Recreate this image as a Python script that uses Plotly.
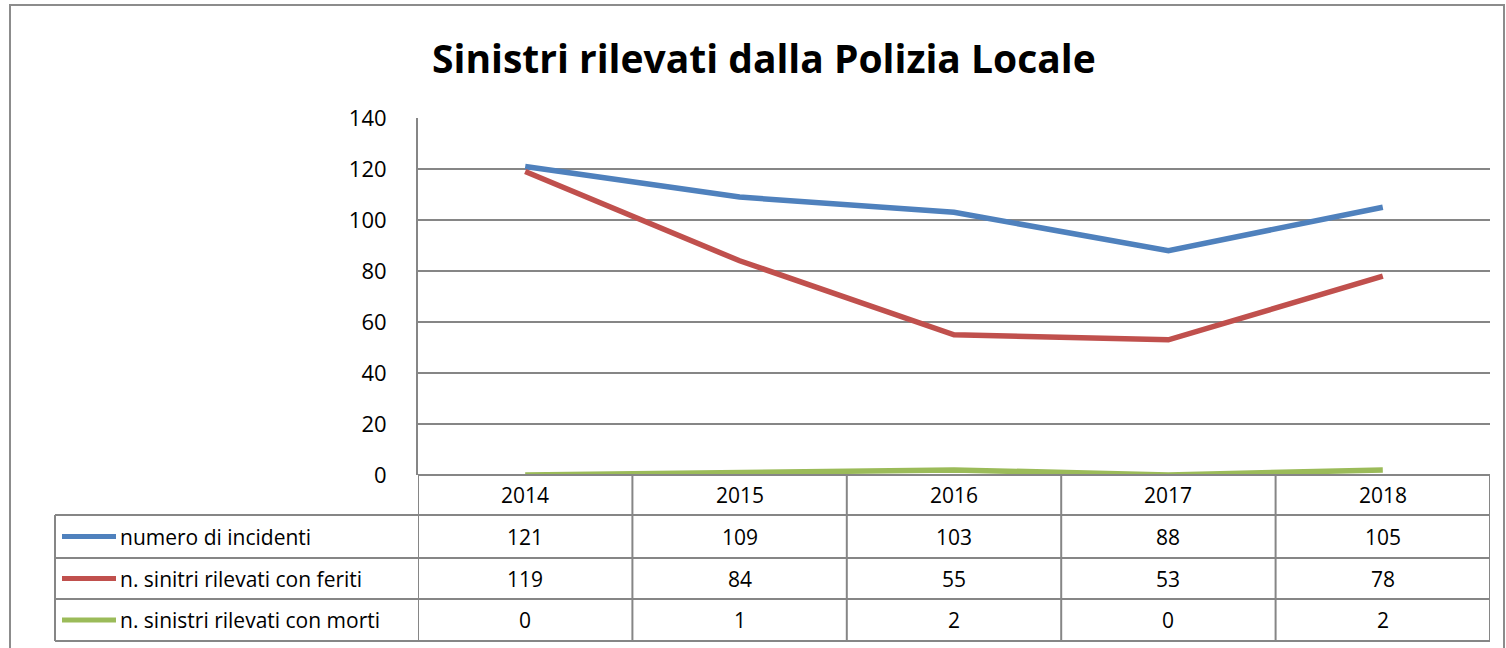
import plotly.graph_objects as go

# ---- data ----
years = ["2014", "2015", "2016", "2017", "2018"]
series_names = [
    "numero di incidenti",
    "n. sinitri rilevati con feriti",
    "n. sinistri rilevati con morti",
]
incidenti = [121, 109, 103, 88, 105]
feriti = [119, 84, 55, 53, 78]
morti = [0, 1, 2, 0, 2]
series_values = [incidenti, feriti, morti]
colors = ["#4F81BD", "#C0504D", "#9BBB59"]
y_ticks = [0, 20, 40, 60, 80, 100, 120, 140]
title = "Sinistri rilevati dalla Polizia Locale"

# ---- layout geometry (pixels) ----
W, H = 1506, 648
L, R, T, B = 418, 1490, 118, 475
FONT = "Open Sans"
GRID = "#868686"
TXT = 21


def px(x):
    return (x - L) / (R - L)


def py(y):
    return (B - y) / (B - T)


xs = list(range(len(years)))

fig = go.Figure()
for name, vals, col in zip(series_names, series_values, colors):
    fig.add_trace(go.Scatter(
        x=xs, y=vals, name=name, mode="lines",
        line=dict(color=col, width=5.5),
        showlegend=False, cliponaxis=False,
    ))

shapes = []
# outer chart border
shapes.append(dict(type="rect", xref="paper", yref="paper",
                   x0=px(10), x1=px(1504), y0=py(5), y1=py(700),
                   line=dict(color="#8C8C8C", width=2), layer="below"))

# table geometry
row_lines = [515, 558, 599, 641]
leg_left = 55
for yy in row_lines:
    shapes.append(dict(type="line", xref="paper", yref="paper",
                       x0=px(leg_left), x1=1, y0=py(yy), y1=py(yy),
                       line=dict(color=GRID, width=2)))
for i in range(len(years) + 1):
    shapes.append(dict(type="line", xref="x", yref="paper",
                       x0=i - 0.5, x1=i - 0.5, y0=0, y1=py(row_lines[-1]),
                       line=dict(color=GRID, width=2)))
shapes.append(dict(type="line", xref="paper", yref="paper",
                   x0=px(leg_left), x1=px(leg_left),
                   y0=py(row_lines[0]), y1=py(row_lines[-1]),
                   line=dict(color=GRID, width=2)))
shapes.append(dict(type="line", xref="paper", yref="paper",
                   x0=0, x1=1, y0=0, y1=0,
                   line=dict(color=GRID, width=2)))

annotations = []
header_c = (B + row_lines[0]) / 2
for i, yr in enumerate(years):
    annotations.append(dict(x=i, y=py(header_c), xref="x", yref="paper",
                            text=yr, showarrow=False,
                            font=dict(family=FONT, size=TXT, color="#000"),
                            xanchor="center", yanchor="middle"))
for r, (name, vals, col) in enumerate(zip(series_names, series_values, colors)):
    yc = (row_lines[r] + row_lines[r + 1]) / 2
    for i, v in enumerate(vals):
        annotations.append(dict(x=i, y=py(yc), xref="x", yref="paper",
                                text=str(v), showarrow=False,
                                font=dict(family=FONT, size=TXT, color="#000"),
                                xanchor="center", yanchor="middle"))
    shapes.append(dict(type="line", xref="paper", yref="paper",
                       x0=px(62), x1=px(116), y0=py(yc), y1=py(yc),
                       line=dict(color=col, width=5)))
    annotations.append(dict(x=px(118), y=py(yc), xref="paper", yref="paper",
                            text=name, showarrow=False,
                            font=dict(family=FONT, size=TXT, color="#000"),
                            xanchor="left", yanchor="middle"))

annotations.append(dict(x=px(764), y=py(58), xref="paper", yref="paper",
                        text="<b>" + title + "</b>", showarrow=False,
                        font=dict(family=FONT, size=39, color="#000"),
                        xanchor="center", yanchor="middle"))

fig.update_layout(
    width=W, height=H,
    margin=dict(l=L, r=W - R, t=T, b=H - B, pad=0),
    paper_bgcolor="white", plot_bgcolor="white",
    shapes=shapes, annotations=annotations,
    xaxis=dict(range=[-0.5, len(years) - 0.5], showgrid=False,
               showticklabels=False, zeroline=False, showline=False,
               fixedrange=True),
    yaxis=dict(range=[0, 140], tickvals=y_ticks, showgrid=True,
               gridcolor=GRID, gridwidth=2, zeroline=False,
               showline=True, linecolor=GRID, linewidth=2,
               ticks="", ticklabelstandoff=25,
               tickfont=dict(family=FONT, size=22, color="#000"),
               fixedrange=True),
)

fig.write_html("out.html",
               config={"displayModeBar": False},
               post_script="document.body.style.margin='0';"
                           "document.body.style.overflow='hidden';")
